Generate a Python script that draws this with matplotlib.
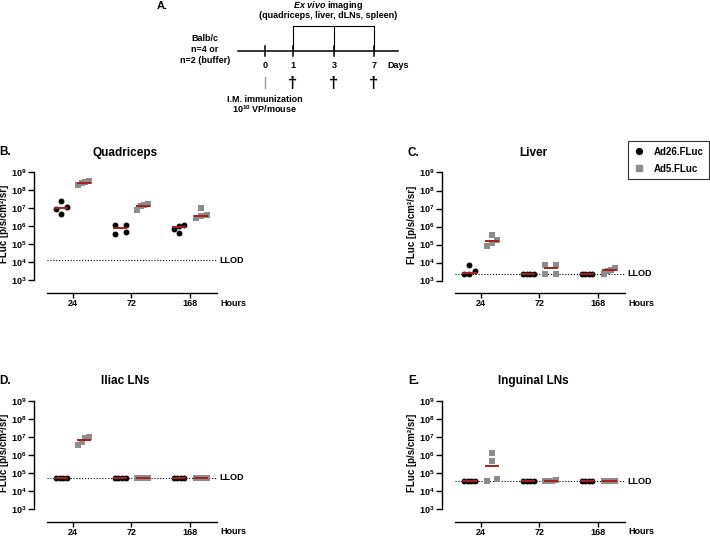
import numpy as np
import matplotlib
matplotlib.use('Agg')
import matplotlib.pyplot as plt
from matplotlib.lines import Line2D
from matplotlib.ticker import FixedLocator, NullLocator, FuncFormatter
import matplotlib.transforms as mtransforms

plt.rcParams.update({
    'font.family': ['Liberation Sans', 'DejaVu Sans'],
    'font.weight': 'bold',
    'mathtext.fontset': 'custom',
    'mathtext.rm': 'Liberation Sans:bold',
    'mathtext.bf': 'Liberation Sans:bold',
    'mathtext.it': 'Liberation Sans:italic:bold',
    'axes.linewidth': 1.0,
})

# data (FLuc, p/s/cm2/sr), one list of 4 mice per time point
hours = ['24', '72', '168']

quad_ad26 = [[5.0e6, 9.5e6, 1.2e7, 2.4e7], [3.6e5, 5.0e5, 1.2e6, 1.2e6], [4.5e5, 7.5e5, 1.0e6, 1.15e6]]
quad_ad5 = [[1.9e8, 2.4e8, 2.9e8, 3.2e8], [8.5e6, 1.3e7, 1.5e7, 1.8e7], [2.9e6, 3.7e6, 4.1e6, 1.05e7]]
quad_llod = 1.3e4

liver_ad26 = [[2.4e3, 2.4e3, 3.2e3, 7.5e3], [2.4e3, 2.4e3, 2.4e3, 2.4e3], [2.4e3, 2.4e3, 2.4e3, 2.4e3]]
liver_ad5 = [[8.0e4, 1.2e5, 1.9e5, 3.6e5], [2.4e3, 2.4e3, 7.4e3, 7.4e3], [2.4e3, 3.4e3, 4.1e3, 4.9e3]]
liver_llod = 2.4e3

iliac_ad26 = [[5.5e4, 5.5e4, 5.5e4, 5.5e4], [5.5e4, 5.5e4, 5.5e4, 5.5e4], [5.5e4, 5.5e4, 5.5e4, 5.5e4]]
iliac_ad5 = [[3.4e6, 5.5e6, 8.5e6, 9.5e6], [5.5e4, 5.5e4, 5.5e4, 5.5e4], [5.5e4, 5.5e4, 5.5e4, 5.5e4]]
iliac_llod = 5.5e4

ing_ad26 = [[3.6e4, 3.6e4, 3.6e4, 3.6e4], [3.6e4, 3.6e4, 3.6e4, 3.6e4], [3.6e4, 3.6e4, 3.6e4, 3.6e4]]
ing_ad5 = [[3.6e4, 4.5e4, 4.6e5, 1.35e6], [3.6e4, 3.6e4, 3.6e4, 4.2e4], [3.6e4, 3.6e4, 3.6e4, 3.6e4]]
ing_llod = 3.6e4

# schematic (panel A)
days = ['0', '1', '3', '7']

GRAY = '#8c8c8c'
RED = '#a91d1d'
W, H = 710, 537


def spread(vals, center, total=0.18, thr=0.22):
    # GraphPad-like: points with close values are put side by side
    logs = np.log10(vals)
    order = np.argsort(logs, kind='stable')
    xs = np.zeros(len(vals))
    rows, cur = [], [order[0]]
    for a, b in zip(order[:-1], order[1:]):
        if logs[b] - logs[a] < thr:
            cur.append(b)
        else:
            rows.append(cur)
            cur = [b]
    rows.append(cur)
    for row in rows:
        n = len(row)
        step = total / (n - 1) if n > 1 else 0
        for i, idx in enumerate(row):
            xs[idx] = center + (i - (n - 1) / 2) * step
    return xs


def panel(rect_px, title, letter, ad26, ad5, llod):
    left, top = rect_px
    ax = fig.add_axes([left / W, (H - top - 120.7) / H, 182.4 / W, 120.7 / H])
    for g in range(len(hours)):
        for vals, off, mk, col, sz in [(ad26[g], -0.19, 'o', 'black', 18), (ad5[g], 0.19, 's', GRAY, 16)]:
            vals = np.array(vals)
            xs = spread(vals, g + off)
            ax.scatter(xs, vals, marker=mk, s=sz, color=col, linewidths=0, zorder=3, clip_on=False)
            ax.hlines(np.median(vals), g + off - 0.12, g + off + 0.12, color=RED, lw=1.4, zorder=4)
    ax.hlines(llod, -0.43, 2.45, color='black', lw=0.8, linestyles=(0, (1, 1.6)), zorder=1)

    ax.set_yscale('log')
    ax.set_ylim(10 ** 2.3, 1e9)
    ax.set_xlim(-0.65, 2.45)
    ax.yaxis.set_major_locator(FixedLocator([10.0 ** k for k in range(3, 10)]))
    ax.yaxis.set_minor_locator(NullLocator())
    ax.yaxis.set_major_formatter(FuncFormatter(lambda v, p: r'$\mathbf{10^{%d}}$' % round(np.log10(v))))
    ax.set_xticks(range(len(hours)))
    ax.set_xticklabels(hours)
    ax.tick_params(axis='y', labelsize=6.5, length=4, width=1.0, pad=1.5)
    ax.tick_params(axis='x', labelsize=6.5, length=3.5, width=1.0, pad=1.0)
    for s in ['top', 'right']:
        ax.spines[s].set_visible(False)
    ax.spines['left'].set_bounds(1e3, 1e9)
    ax.spines['bottom'].set_bounds(-0.43, 2.45)
    ax.patch.set_visible(False)

    ax.set_ylabel('FLuc [p/s/cm²/sr]', fontsize=7, fontweight='bold')
    ax.yaxis.set_label_coords(-0.138, 0.57)
    ax.text(0.5, 1.163, title, transform=ax.transAxes, ha='center', va='center', fontsize=8.5)
    ax.text(1.092, -0.085, 'Hours', transform=ax.transAxes, ha='center', va='center', fontsize=6.5)
    tr = mtransforms.blended_transform_factory(ax.transAxes, ax.transData)
    ax.text(1.08, llod, 'LLOD', transform=tr, ha='center', va='center', fontsize=6.5)
    fig.text((left - 29) / W, 1 - (top - 20) / H, letter, ha='center', va='center', fontsize=8.5)
    return ax


fig = plt.figure(figsize=(W / 100, H / 100), dpi=100)

panel((34.3, 172.3), 'Quadriceps', 'B.', quad_ad26, quad_ad5, quad_llod)
panel((442.4, 172.5), 'Liver', 'C.', liver_ad26, liver_ad5, liver_llod)
panel((34.3, 401.0), 'Iliac LNs', 'D.', iliac_ad26, iliac_ad5, iliac_llod)
panel((442.4, 401.0), 'Inguinal LNs', 'E.', ing_ad26, ing_ad5, ing_llod)

handles = [Line2D([], [], marker='o', color='black', ls='none', markersize=4.2),
           Line2D([], [], marker='s', color=GRAY, ls='none', markersize=4.0)]
leg = fig.legend(handles, ['Ad26.FLuc', 'Ad5.FLuc'], loc='upper right',
                 bbox_to_anchor=(709 / W, 1 - 141 / H), fontsize=7, frameon=True,
                 fancybox=False, edgecolor='black', handlelength=1.0, handletextpad=1.0,
                 borderpad=0.6, labelspacing=0.7, borderaxespad=0)
leg.get_frame().set_linewidth(0.8)

# panel A: study design schematic, in pixel coordinates
ov = fig.add_axes([0, 0, 1, 1])
ov.set_xlim(0, W)
ov.set_ylim(H, 0)
ov.axis('off')
day_x = [265, 293, 334, 374]
line_y = 50.7
ov.plot([238, 398], [line_y, line_y], color='black', lw=1.1)
for x, d in zip(day_x, days):
    ov.plot([x, x], [46, 55.5], color='black', lw=1.1)
    ov.text(x, 65.5, d, ha='center', va='center', fontsize=6.5)
ov.text(398, 65.5, 'Days', ha='center', va='center', fontsize=6.5)
ov.plot([day_x[1], day_x[1], day_x[3], day_x[3]], [line_y, 26, 26, line_y], color='black', lw=0.8)
ov.plot([day_x[2], day_x[2]], [26, line_y], color='black', lw=0.8)
ov.plot([day_x[0], day_x[0]], [77, 88], color='#999999', lw=1.0)
for x in day_x[1:]:
    ov.text(x, 83.5, '†', ha='center', va='center', fontsize=12)
ov.text(162, 6, 'A.', ha='center', va='center', fontsize=8)
ov.text(328, 5, r'$\mathit{Ex\ vivo}$ imaging', ha='center', va='center', fontsize=6.5)
ov.text(328, 16, '(quadriceps, liver, dLNs, spleen)', ha='center', va='center', fontsize=6.5)
ov.text(205, 38.5, 'Balb/c', ha='center', va='center', fontsize=6.5)
ov.text(205, 49.5, 'n=4 or', ha='center', va='center', fontsize=6.5)
ov.text(205, 60.5, 'n=2 (buffer)', ha='center', va='center', fontsize=6.5)
ov.text(265, 99, 'I.M. immunization', ha='center', va='center', fontsize=6.5)
ov.text(265, 109.5, r'$\mathbf{10^{10}}$ VP/mouse', ha='center', va='center', fontsize=6.5)

fig.savefig('out.png', dpi=100)
